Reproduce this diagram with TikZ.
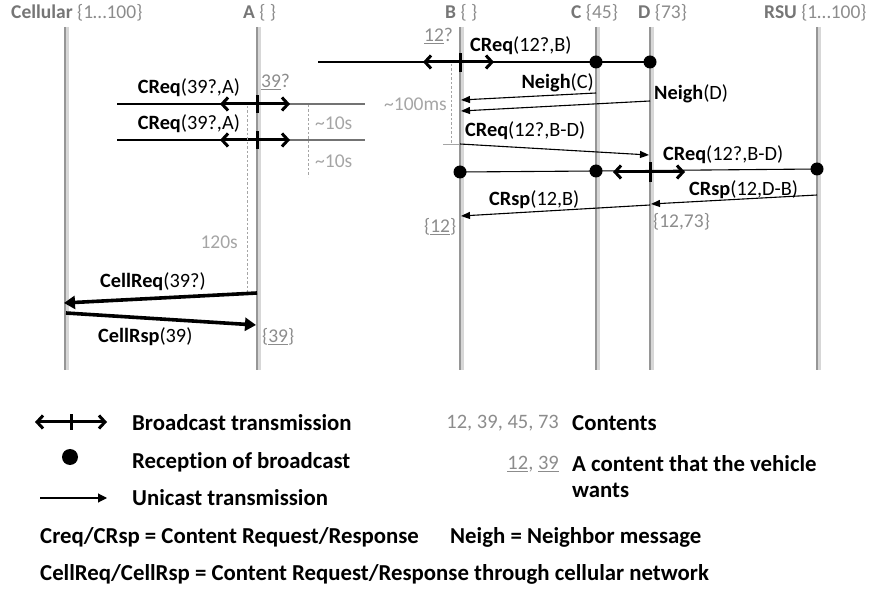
\documentclass[tikz,border=0pt]{standalone}
\usepackage{fontspec}
\setmainfont{Carlito}[Ligatures=NoCommon]
\usetikzlibrary{arrows.meta}
\definecolor{hdrbold}{RGB}{118,118,118}
\definecolor{hdrlight}{RGB}{140,140,140}
\definecolor{soft}{RGB}{165,165,165}
\definecolor{life}{RGB}{150,150,150}
\definecolor{lifeshade}{RGB}{215,215,215}
\begin{document}
\begin{tikzpicture}[x=1pt,y=-1pt,
  lifeline/.style={draw=life,line width=2.6pt},
  lifeshade/.style={draw=lifeshade,line width=3pt},
  wire/.style={line width=1.1pt},
  graywire/.style={line width=1.1pt,draw=black!55},
  bcast/.style={line width=3pt,{Straight Barb[length=6pt,width=13pt]}-{Straight Barb[length=6pt,width=13pt]}},
  btick/.style={line width=3pt},
  ucast/.style={line width=1.1pt,-{Triangle[length=9pt,width=7pt]}},
  cellarrow/.style={line width=3.6pt,-{Triangle[length=11pt,width=13pt]}},
  rx/.style={circle,fill=black,inner sep=0pt,minimum size=13pt},
  timer/.style={draw=soft,line width=0.8pt,dash pattern=on 2.5pt off 2pt},
  msg/.style={inner sep=0pt,font=\fontsize{20.3}{20.3}\selectfont},
  hdr/.style={inner sep=0pt,anchor=west,font=\fontsize{19.5}{19.5}\selectfont},
  softtxt/.style={inner sep=0pt,text=soft,font=\fontsize{19.5}{19.5}\selectfont},
  leg/.style={inner sep=0pt,anchor=west,font=\fontsize{22.8}{22.8}\selectfont\bfseries},
  leggray/.style={inner sep=0pt,anchor=east,text=hdrlight,font=\fontsize{20.5}{20.5}\selectfont}
]
\useasboundingbox (0,0) rectangle (873,593);

% ---- headers ----
\node[hdr] (hCell) at (11,13) {\textcolor{hdrbold}{\bfseries Cellular} \textcolor{hdrlight}{\{1\ldots100\}}};
\node[hdr] (hA)    at (243,13) {\textcolor{hdrbold}{\bfseries A} \textcolor{hdrlight}{\{ \}}};
\node[hdr] (hB)    at (445,13) {\textcolor{hdrbold}{\bfseries B} \textcolor{hdrlight}{\{ \}}};
\node[hdr] (hC)    at (571,13) {\textcolor{hdrbold}{\bfseries C} \textcolor{hdrlight}{\{45\}}};
\node[hdr] (hD)    at (638,13) {\textcolor{hdrbold}{\bfseries D} \textcolor{hdrlight}{\{73\}}};
\node[hdr] (hR)    at (764,13) {\textcolor{hdrbold}{\bfseries RSU} \textcolor{hdrlight}{\{1\ldots100\}}};

% ---- lifelines ----
\foreach \n/\x in {Cell/65,A/257,B/460,C/596,D/650,R/817}{
  \coordinate (\n top) at (\x,27);
  \coordinate (\n bot) at (\x,370);
  \draw[lifeshade] ([xshift=2.5pt]\n top) -- ([xshift=2.5pt]\n bot);
  \draw[lifeline] (\n top) -- (\n bot);
}

% ---- B broadcasts CReq(12?,B), heard by C and D ----
\coordinate (bStart) at (318,62);
\coordinate (bB) at (460,62);
\node[rx] (rC1) at (596,62) {};
\node[rx] (rD1) at (650,62) {};
\draw[wire] (bStart) -- (rD1.center);
\draw[bcast] ([xshift=-37pt]bB) -- ([xshift=34pt]bB);
\draw[btick] ([yshift=-10pt]bB) -- ([yshift=9pt]bB);
\node[hdr,text=hdrlight] (want12) at (424,36) {\underline{12}?};
\node[msg,anchor=west] (m1) at (470,46) {\textbf{CReq}(12?,B)};

% ---- Neighbor replies to B ----
\coordinate (nC) at (596,93);
\coordinate (nCB) at (461,100);
\coordinate (nD) at (650,101);
\coordinate (nDB) at (461,111);
\draw[ucast] (nC) -- (nCB);
\draw[ucast] (nD) -- (nDB);
\node[msg,anchor=east] (m2) at (594,83) {\textbf{Neigh}(C)};
\node[msg,anchor=west] (m3) at (654,94) {\textbf{Neigh}(D)};
\draw[timer] (451,64) -- (451,144);
\draw[draw=soft,line width=0.8pt] (443,144) -- (460,144);
\node[softtxt,anchor=east] (t100) at (447,104) {\textasciitilde100ms};

% ---- B unicasts CReq to D ----
\coordinate (uB) at (460,144);
\coordinate (uD) at (649,155);
\draw[ucast] (uB) -- (uD);
\node[msg,anchor=west] (m4) at (465,131) {\textbf{CReq}(12?,B-D)};

% ---- D rebroadcasts, heard by B, C and RSU ----
\coordinate (bD) at (650,172);
\node[rx] (rB2) at (460,172) {};
\node[rx] (rC2) at (596,171) {};
\node[rx] (rR2) at (817,169) {};
\draw[wire] (rB2.center) -- (rC2.center);
\draw[wire] (rC2.center) -- (rR2.center);
\draw[bcast] ([xshift=-37pt]bD) -- ([xshift=35pt]bD);
\draw[btick] ([yshift=-10pt]bD) -- ([yshift=10pt]bD);
\node[msg,anchor=west] (m5) at (663,155) {\textbf{CReq}(12?,B-D)};

% ---- responses ----
\coordinate (sR) at (817,195);
\coordinate (sD) at (651,204);
\coordinate (sD2) at (650,205);
\coordinate (sB) at (461,216);
\draw[ucast] (sR) -- (sD);
\draw[ucast] (sD2) -- (sB);
\node[msg,anchor=west] (m6) at (689,190) {\textbf{CRsp}(12,D-B)};
\node[msg,anchor=west] (m7) at (489,200) {\textbf{CRsp}(12,B)};
\node[hdr,text=hdrlight] (got73) at (653,222) {\{12,73\}};
\node[hdr,text=hdrlight] (got12) at (424,227) {\{\underline{12}\}};

% ---- A broadcasts twice ----
\foreach \y/\k in {104/1,140/2}{
  \coordinate (aL\k) at (117,\y);
  \coordinate (aA\k) at (257,\y);
  \coordinate (aR\k) at (365,\y);
  \draw[wire] (aL\k) -- (aA\k);
  \draw[graywire] (aA\k) -- (aR\k);
  \draw[bcast] ([xshift=-37pt]aA\k) -- ([xshift=33pt]aA\k);
  \draw[btick] ([yshift=-9pt]aA\k) -- ([yshift=9pt]aA\k);
  \node[msg] (cq\k) at (189,\y-16) {\textbf{CReq}(39?,A)};
}
\node[hdr,text=hdrlight] (want39) at (261,82) {\underline{39}?};
\draw[timer] (308,105) -- (308,177);
\node[softtxt,anchor=west] (t10a) at (315,123) {\textasciitilde10s};
\node[softtxt,anchor=west] (t10b) at (315,161) {\textasciitilde10s};
\draw[timer] (247,106) -- (247,292);
\node[softtxt,anchor=east] (t120) at (238,242) {120s};

% ---- cellular fallback ----
\coordinate (cA) at (257,293);
\coordinate (cCell) at (64,303);
\coordinate (rCell) at (66,313);
\coordinate (rA) at (256,325);
\draw[cellarrow] (cA) -- (cCell);
\draw[cellarrow] (rCell) -- (rA);
\node[msg,anchor=west] (m8) at (100,282) {\textbf{CellReq}(39?)};
\node[msg,anchor=west] (m9) at (98,337) {\textbf{CellRsp}(39)};
\node[hdr,text=hdrlight] (got39) at (262,337) {\{\underline{39}\}};

% ---- legend ----
\coordinate (lb) at (71,422);
\draw[bcast] ([xshift=-36pt]lb) -- ([xshift=36pt]lb);
\draw[btick] ([yshift=-8pt]lb) -- ([yshift=8pt]lb);
\node[leg] (l1) at (132,423) {Broadcast transmission};
\node[circle,fill=black,inner sep=0pt,minimum width=13pt,minimum height=16pt] (ldot) at (70,457) {};
\node[leg] (l2) at (132,462) {Reception of broadcast};
\coordinate (lu1) at (40,498);
\coordinate (lu2) at (107,498);
\draw[line width=1.1pt,-{Triangle[length=9pt,width=9pt]}] (lu1) -- (lu2);
\node[leg] (l3) at (132,498) {Unicast transmission};
\node[leggray] (lc) at (559,423) {12, 39, 45, 73};
\node[leggray] (lw) at (559,464) {\underline{12}, \underline{39}};
\node[leg] (l4) at (572,423) {Contents};
\node[leg] (l5) at (572,464) {A content that the vehicle};
\node[leg] (l6) at (572,490) {wants};
\node[leg] (l7) at (40,537) {Creq/CRsp = Content Request/Response};
\node[leg] (l8) at (450,537) {Neigh = Neighbor message};
\node[leg] (l9) at (40,574) {CellReq/CellRsp = Content Request/Response through cellular network};
\end{tikzpicture}
\end{document}
